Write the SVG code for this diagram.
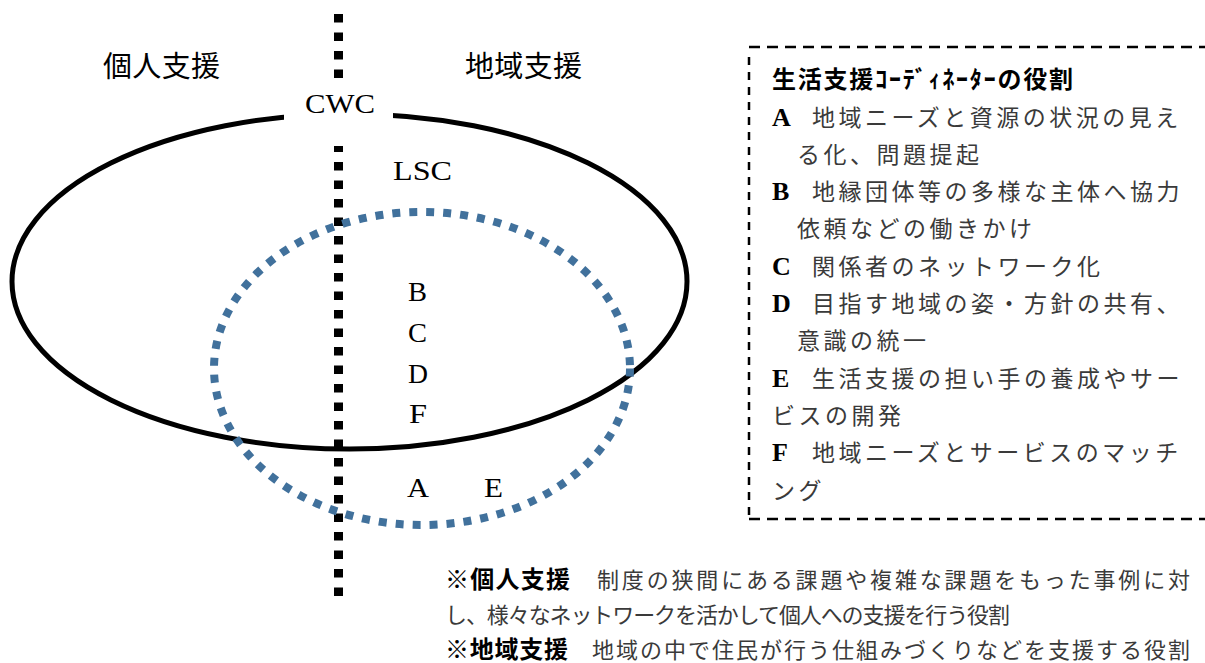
<svg xmlns="http://www.w3.org/2000/svg" width="1205" height="663" viewBox="0 0 1205 663">
<style>
.jp{font-family:"Noto Sans CJK JP","Noto Sans",sans-serif;}
.head{font-size:29px;fill:#000;}
.box{font-size:23px;fill:#3a3a3a;letter-spacing:3.5px;}
.lt{font-family:"Liberation Serif",serif;font-weight:bold;font-size:26px;fill:#000;}
.cl{font-family:"Liberation Serif",serif;font-size:28px;fill:#000;}
.note{font-size:22px;fill:#3a3a3a;}
.noteb{font-size:24px;fill:#000;font-weight:bold;}
</style>
<rect width="1205" height="663" fill="#fff"/>
<g id="connectors">
<ellipse id="cwc-ring" cx="349.5" cy="281.5" rx="337.5" ry="167.5" fill="none" stroke="#000" stroke-width="5"/>
<line id="divider" x1="338.5" y1="14" x2="338.5" y2="605" stroke="#000" stroke-width="9" stroke-dasharray="8.5 10"/>
<rect x="284" y="79" width="109" height="67" fill="#fff"/>
<ellipse id="lsc-ring" cx="422" cy="368.5" rx="208" ry="156.5" fill="none" stroke="#41719c" stroke-width="8" stroke-dasharray="8 9"/>
</g>
<g id="headings">
<text class="jp head" x="103" y="77" textLength="117">個人支援</text>
<text class="jp head" x="465" y="77" textLength="117">地域支援</text>
</g>
<g id="cwc"><text class="cl" x="305" y="113" textLength="70" lengthAdjust="spacingAndGlyphs">CWC</text></g>
<g id="lsc"><text class="cl" x="393" y="180" textLength="59" lengthAdjust="spacingAndGlyphs">LSC</text></g>
<g id="labels">
<text class="cl" x="408" y="301" textLength="19" lengthAdjust="spacingAndGlyphs">B</text>
<text class="cl" x="408" y="342" textLength="19" lengthAdjust="spacingAndGlyphs">C</text>
<text class="cl" x="408" y="383" textLength="20" lengthAdjust="spacingAndGlyphs">D</text>
<text class="cl" x="409" y="423" textLength="18" lengthAdjust="spacingAndGlyphs">F</text>
<text class="cl" x="407" y="497" textLength="22" lengthAdjust="spacingAndGlyphs">A</text>
<text class="cl" x="484" y="497" textLength="19" lengthAdjust="spacingAndGlyphs">E</text>
</g>
<g id="role-box">
<line x1="749" y1="47" x2="1205" y2="47" stroke="#000" stroke-width="2.5" stroke-dasharray="11 7"/>
<line x1="749" y1="57" x2="749" y2="519" stroke="#000" stroke-width="2.5" stroke-dasharray="8 7"/>
<line x1="749" y1="519" x2="1205" y2="519" stroke="#000" stroke-width="2.5" stroke-dasharray="11 7"/>
<text class="jp" x="772" y="88" font-size="24" font-weight="bold" textLength="301">生活支援ｺｰﾃﾞｨﾈｰﾀｰの役割</text>
<text class="lt" x="772" y="125.5">A</text>
<text class="jp box" x="812" y="125.5">地域ニーズと資源の状況の見え</text>
<text class="jp box" x="797" y="162.8">る化、問題提起</text>
<text class="lt" x="772" y="200.1">B</text>
<text class="jp box" x="812" y="200.1">地縁団体等の多様な主体へ協力</text>
<text class="jp box" x="797" y="237.4">依頼などの働きかけ</text>
<text class="lt" x="772" y="274.7">C</text>
<text class="jp box" x="812" y="274.7">関係者のネットワーク化</text>
<text class="lt" x="772" y="312">D</text>
<text class="jp box" x="812" y="312">目指す地域の姿・方針の共有、</text>
<text class="jp box" x="797" y="349.3">意識の統一</text>
<text class="lt" x="772" y="386.6">E</text>
<text class="jp box" x="812" y="386.6">生活支援の担い手の養成やサー</text>
<text class="jp box" x="772" y="423.9">ビスの開発</text>
<text class="lt" x="772" y="461.2">F</text>
<text class="jp box" x="812" y="461.2">地域ニーズとサービスのマッチ</text>
<text class="jp box" x="772" y="498.5">ング</text>
</g>
<g id="notes">
<text class="jp noteb" x="445" y="588" textLength="125">※個人支援</text>
<text class="jp note" x="597" y="588" textLength="593">制度の狭間にある課題や複雑な課題をもった事例に対</text>
<text class="jp note" x="445" y="623" textLength="565">し、様々なネットワークを活かして個人への支援を行う役割</text>
<text class="jp noteb" x="445" y="658" textLength="123">※地域支援</text>
<text class="jp note" x="592" y="658" textLength="598">地域の中で住民が行う仕組みづくりなどを支援する役割</text>
</g>
</svg>
